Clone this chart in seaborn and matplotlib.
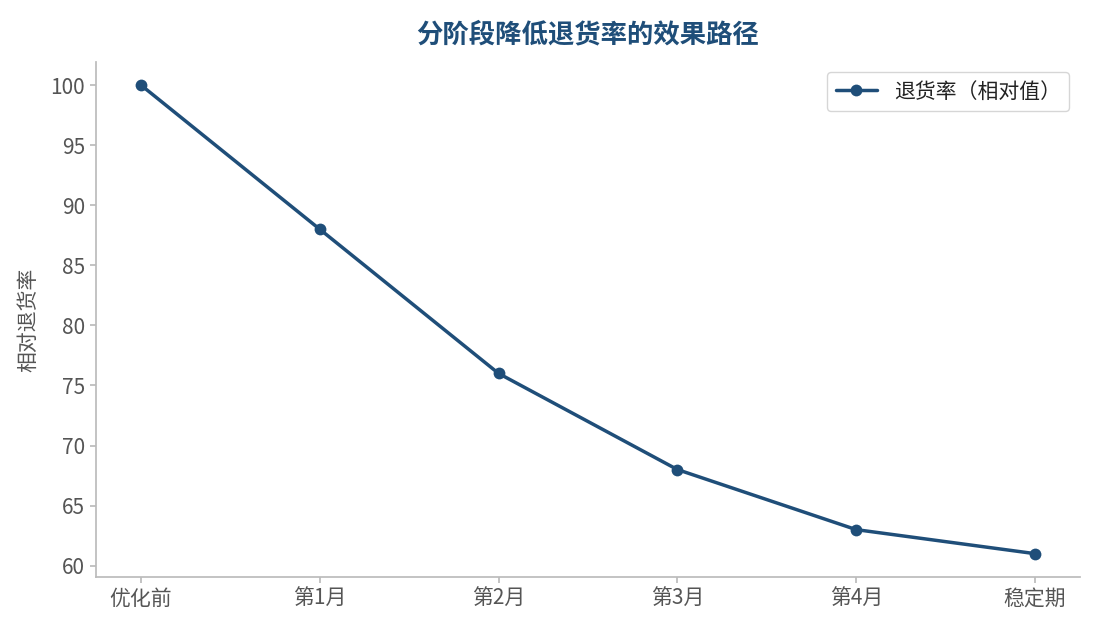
import pandas as pd
import matplotlib
matplotlib.use("Agg")
import matplotlib.pyplot as plt
import seaborn as sns

# 数据
stages = ["优化前", "第1月", "第2月", "第3月", "第4月", "稳定期"]
return_rate = [100, 88, 76, 68, 63, 61]

df = pd.DataFrame({"阶段": stages, "退货率": return_rate})

sns.set_theme(style="ticks")
plt.rcParams["font.family"] = ["Noto Sans CJK SC", "DejaVu Sans"]
plt.rcParams["axes.unicode_minus"] = False

color = "#1f4e79"

fig, ax = plt.subplots(figsize=(10.95, 6.3), dpi=100)
sns.lineplot(data=df, x="阶段", y="退货率", marker="o", markersize=8.5,
             markeredgewidth=0, linewidth=2.5, color=color,
             label="退货率（相对值）", ax=ax, sort=False)

ax.set_title("分阶段降低退货率的效果路径", fontsize=19, fontweight="bold",
             color=color, pad=14)
ax.set_xlabel("")
ax.set_ylabel("相对退货率", fontsize=15, color="#555555", labelpad=8)
ax.tick_params(axis="both", labelsize=15, colors="#555555", length=4.5)
ax.tick_params(axis="both", color="#bbbbbb")

sns.despine(ax=ax)
for side in ["left", "bottom"]:
    ax.spines[side].set_color("#bbbbbb")

leg = ax.legend(loc="upper right", fontsize=15, frameon=True, borderpad=0.4)
leg.get_frame().set_edgecolor("#cccccc")
for t in leg.get_texts():
    t.set_color("#222222")

plt.subplots_adjust(left=0.088, right=0.986, top=0.902, bottom=0.084)
plt.savefig("out.png", dpi=100)
